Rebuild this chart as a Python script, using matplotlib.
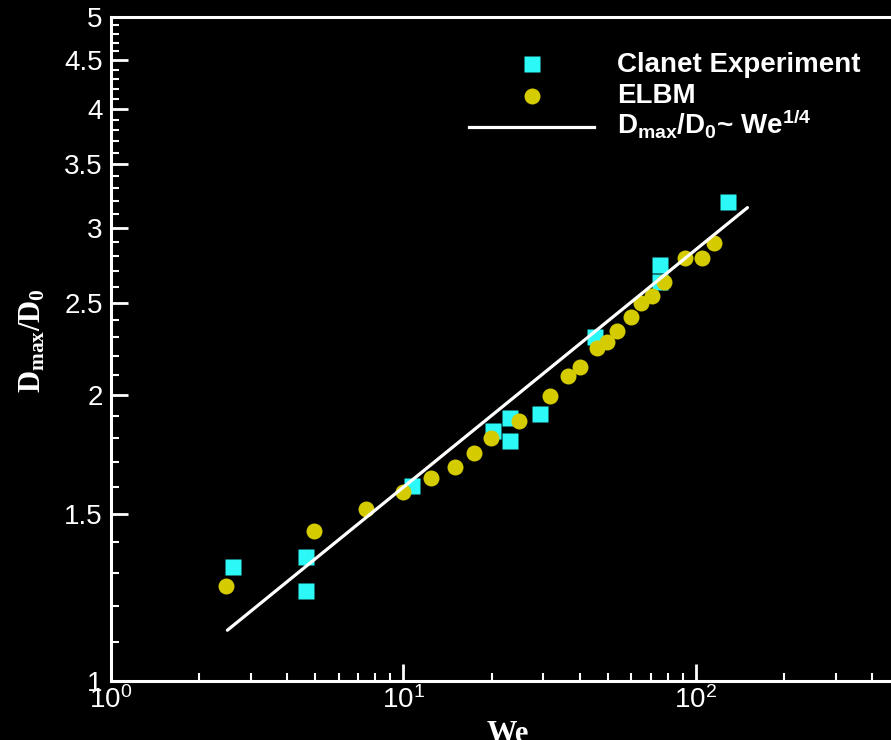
import matplotlib
matplotlib.use("Agg")
import matplotlib.pyplot as plt
from matplotlib.ticker import FixedLocator, NullFormatter

# Clanet experiment (We, Dmax/D0)
clanet_we = [2.61, 4.64, 4.64, 10.7, 20.2, 23.1, 23.1, 29.3, 45.2, 75.3, 75.3, 128.6]
clanet_d = [1.318, 1.35, 1.244, 1.604, 1.833, 1.89, 1.789, 1.91, 2.30, 2.74, 2.63, 3.19]

# ELBM simulation
elbm_we = [2.47, 4.94, 7.45, 9.96, 12.4, 15.0, 17.4, 19.9, 24.8, 31.7, 36.5, 40.1,
           45.9, 49.6, 53.7, 59.9, 64.9, 70.7, 77.8, 91.7, 104.8, 115.3]
elbm_d = [1.259, 1.439, 1.517, 1.58, 1.636, 1.68, 1.738, 1.80, 1.878, 1.995, 2.095, 2.14,
          2.24, 2.275, 2.335, 2.416, 2.50, 2.54, 2.63, 2.79, 2.79, 2.89]

# We^1/4 scaling line (end points)
fit_we = [2.5, 150.0]
fit_d = [1.131, 3.15]

ytick_vals = [1, 1.5, 2, 2.5, 3, 3.5, 4, 4.5, 5]
ytick_labels = ['1', '1.5', '2', '2.5', '3', '3.5', '4', '4.5', '5']
xtick_vals = [1, 10, 100]
xtick_labels = ['10$^{0}$', '10$^{1}$', '10$^{2}$']

legend_labels = ['Clanet Experiment', 'ELBM',
                 r'D$_{\mathregular{max}}$/D$_{\mathregular{0}}$~ We$^{\mathregular{1/4}}$']

CYAN = '#2cf8f8'
YELLOW = '#d4cc00'

plt.rcParams['font.family'] = ['Liberation Sans', 'DejaVu Sans']
plt.rcParams['mathtext.default'] = 'regular'

W, H = 891, 740
fig = plt.figure(figsize=(W / 100, H / 100), dpi=100, facecolor='black')
ax = fig.add_axes([111 / W, 59 / H, 789.4 / W, 664 / H], facecolor='black')

ax.plot(fit_we, fit_d, color='white', lw=2.3, solid_capstyle='round', zorder=3)
ax.plot(clanet_we, clanet_d, 's', color=CYAN, ms=11, mec='none', zorder=2)
ax.plot(elbm_we, elbm_d, 'o', color=YELLOW, ms=11.5, mec='none', zorder=2)

ax.set_xscale('log')
ax.set_yscale('log')
ax.set_xlim(1, 500)
ax.set_ylim(1, 5)

ax.yaxis.set_major_locator(FixedLocator(ytick_vals))
ax.set_yticklabels(ytick_labels)
yminor = [round(1 + 0.1 * i, 2) for i in range(41)]
yminor = [v for v in yminor if v not in ytick_vals]
ax.yaxis.set_minor_locator(FixedLocator(yminor))
ax.yaxis.set_minor_formatter(NullFormatter())

ax.xaxis.set_major_locator(FixedLocator(xtick_vals))
ax.set_xticklabels(xtick_labels)
xminor = [m * d for d in (1, 10, 100) for m in range(2, 10)]
ax.xaxis.set_minor_locator(FixedLocator(xminor))
ax.xaxis.set_minor_formatter(NullFormatter())

for sp in ('left', 'bottom', 'top'):
    ax.spines[sp].set_color('white')
    ax.spines[sp].set_linewidth(2.2)
ax.spines['right'].set_visible(False)

ax.tick_params(which='both', direction='in', colors='white', labelsize=20,
               top=False, right=False)
ax.tick_params(which='major', length=12, width=2)
ax.tick_params(which='minor', length=6, width=1.5)
ax.tick_params(axis='y', pad=6)
ax.tick_params(axis='x', pad=4)

ax.set_xlabel('We', family=['Liberation Serif'], weight='bold', fontsize=22, color='white')
ax.set_ylabel(r'D$_{\mathregular{max}}$/D$_{\mathregular{0}}$', family=['Liberation Serif'],
              weight='bold', fontsize=22, color='white')
ax.xaxis.set_label_coords(0.503, -0.058)
ax.yaxis.set_label_coords(-0.081, 0.513)

# legend drawn by hand (positions in figure pixels)
tf = fig.transFigure
ax.plot([532 / W], [1 - 64 / H], 's', color=CYAN, ms=11, mec='none',
        transform=tf, clip_on=False)
ax.plot([532 / W], [1 - 96 / H], 'o', color=YELLOW, ms=11.5, mec='none',
        transform=tf, clip_on=False)
ax.plot([469 / W, 594 / W], [1 - 127 / H, 1 - 127 / H], color='white', lw=2.3,
        transform=tf, clip_on=False)
for lab, yb in zip(legend_labels, [72, 103, 134]):
    fig.text(617 / W, 1 - yb / H, lab, color='white', fontsize=20, weight='bold',
             va='baseline', ha='left')

fig.savefig('out.png', dpi=100, facecolor='black')
